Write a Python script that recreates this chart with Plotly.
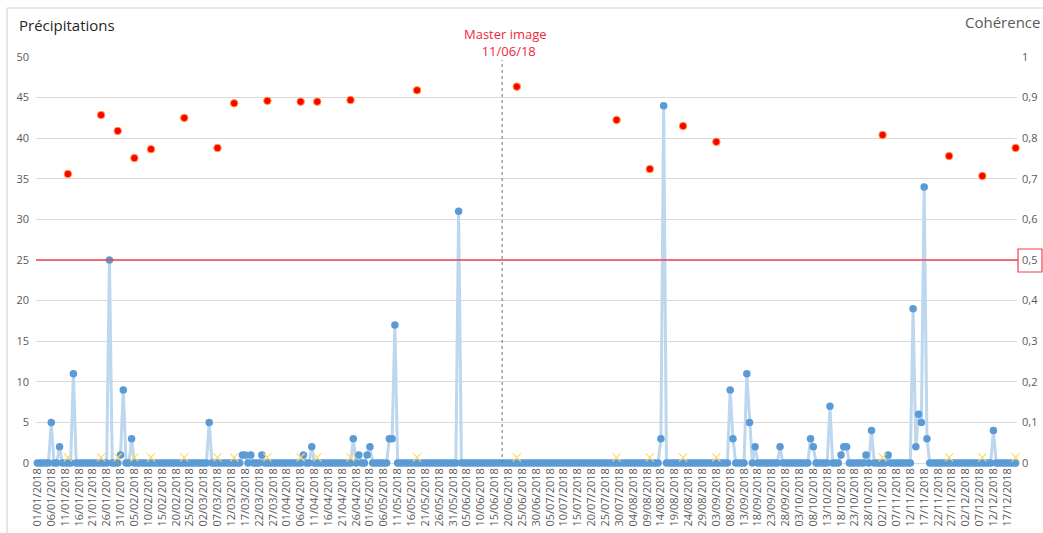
import pandas as pd
import plotly.graph_objects as go

# Daily rainfall (mm): days with rain; every other day of the series is 0
rain_dates = [
    "2018-01-06", "2018-01-09", "2018-01-14", "2018-01-27", "2018-01-31",
    "2018-02-01", "2018-02-04", "2018-03-04", "2018-03-16", "2018-03-17",
    "2018-03-19", "2018-03-23", "2018-04-07", "2018-04-10", "2018-04-25",
    "2018-04-27", "2018-04-30", "2018-05-01", "2018-05-08", "2018-05-09",
    "2018-05-10", "2018-06-02", "2018-08-14", "2018-08-15", "2018-09-08",
    "2018-09-09", "2018-09-14", "2018-09-15", "2018-09-17", "2018-09-26",
    "2018-10-07", "2018-10-08", "2018-10-14", "2018-10-18", "2018-10-19",
    "2018-10-20", "2018-10-27", "2018-10-29", "2018-11-04", "2018-11-13",
    "2018-11-14", "2018-11-15", "2018-11-16", "2018-11-17", "2018-11-18",
    "2018-12-12",
]
rain_mm = [
    5, 2, 11, 25, 1,
    9, 3, 5, 1, 1,
    1, 1, 1, 2, 3,
    1, 1, 2, 3, 3,
    17, 31, 3, 44, 9,
    3, 11, 5, 2, 2,
    3, 2, 7, 1, 2,
    2, 1, 4, 1, 19,
    2, 6, 5, 34, 3,
    4,
]
series_start = "2018-01-01"
series_end = "2018-12-20"

# Interferometric coherence per acquisition date
acq_dates = [
    "2018-01-12", "2018-01-24", "2018-01-30", "2018-02-05", "2018-02-11",
    "2018-02-23", "2018-03-07", "2018-03-13", "2018-03-25", "2018-04-06",
    "2018-04-12", "2018-04-24", "2018-05-18", "2018-06-23", "2018-07-29",
    "2018-08-10", "2018-08-22", "2018-09-03", "2018-11-02", "2018-11-26",
    "2018-12-08", "2018-12-20",
]
coherence = [
    0.712, 0.857, 0.818, 0.751, 0.773,
    0.850, 0.776, 0.886, 0.892, 0.890,
    0.890, 0.894, 0.918, 0.927, 0.845,
    0.724, 0.830, 0.791, 0.808, 0.756,
    0.707, 0.776,
]
# acquisition markers drawn just above the rainfall baseline
acq_marker_mm = [0.7] * len(acq_dates)

coherence_threshold = 0.5
master_line_date = "2018-06-17 17:00"
master_label = "Master image<br>  11/06/18"

# x tick labels: every 5 days
tick_dates = pd.date_range("2018-01-01", "2018-12-17", freq="5D")
tick_text = [d.strftime("%d/%m/%Y") for d in tick_dates]

days = pd.date_range(series_start, series_end, freq="D")
rain = pd.Series(rain_mm, index=pd.to_datetime(rain_dates)).reindex(days, fill_value=0)

W, H = 1043, 533
ML, MR, MT, MB = 36, 26, 57, 70
PW, PH = W - ML - MR, H - MT - MB


def px_x(x):
    return (x - ML) / PW


def px_y(y):
    return (H - MB - y) / PH


grey = "#595959"
font_family = "Open Sans, Noto Sans, sans-serif"

fig = go.Figure()

fig.add_trace(go.Scatter(
    x=days, y=rain.values, mode="lines+markers", cliponaxis=False,
    line=dict(color="#BDD7EE", width=3),
    marker=dict(color="#5B9BD5", size=7.5),
    hoverinfo="x+y", showlegend=False,
))

fig.add_trace(go.Scatter(
    x=pd.to_datetime(acq_dates), y=acq_marker_mm, mode="markers", cliponaxis=False,
    marker=dict(symbol="x-thin", size=8, line=dict(color="#FFD966", width=1.2)),
    showlegend=False,
))

fig.add_trace(go.Scatter(
    x=pd.to_datetime(acq_dates), y=coherence, mode="markers", yaxis="y2",
    cliponaxis=False,
    marker=dict(color="#FF0000", size=7.5, line=dict(color="#FFA040", width=1)),
    showlegend=False,
))

shapes = [
    # chart frame
    dict(type="rect", xref="paper", yref="paper",
         x0=px_x(7), x1=px_x(1060), y0=px_y(545), y1=px_y(8),
         line=dict(color="#D0D0D0", width=1), fillcolor="rgba(0,0,0,0)", layer="below"),
    # coherence threshold
    dict(type="line", xref="paper", yref="y2", x0=0, x1=px_x(1018),
         y0=coherence_threshold, y1=coherence_threshold,
         line=dict(color="#F0404E", width=1.5)),
    # box around the threshold tick label
    dict(type="rect", xref="paper", yref="paper",
         x0=px_x(1018), x1=px_x(1042), y0=px_y(272), y1=px_y(249),
         line=dict(color="#F0404E", width=1.2), fillcolor="rgba(0,0,0,0)"),
    # master image date
    dict(type="line", xref="x", yref="paper", x0=master_line_date, x1=master_line_date,
         y0=0, y1=px_y(60), line=dict(color="#707070", width=1, dash="dot")),
]

annotations = [
    dict(text="Précipitations", xref="paper", yref="paper", x=px_x(17), y=px_y(25),
         xanchor="left", yanchor="middle", showarrow=False,
         font=dict(family=font_family, size=15, color="#262626")),
    dict(text="Cohérence", xref="paper", yref="paper", x=px_x(1042), y=px_y(22),
         xanchor="right", yanchor="middle", showarrow=False,
         font=dict(family=font_family, size=15, color=grey)),
    dict(text=master_label, xref="paper", yref="paper", x=px_x(505), y=px_y(43),
         xanchor="center", yanchor="middle", showarrow=False, align="center",
         font=dict(family=font_family, size=13, color="#F0283C")),
]

fig.update_layout(
    width=W, height=H,
    margin=dict(l=ML, r=MR, t=MT, b=MB, autoexpand=False),
    paper_bgcolor="white", plot_bgcolor="white",
    separators=", ",
    font=dict(family=font_family, size=11, color=grey),
    showlegend=False,
    shapes=shapes, annotations=annotations,
    xaxis=dict(
        type="date", range=["2017-12-31 12:00", "2018-12-20 12:00"],
        tickmode="array", tickvals=tick_dates, ticktext=tick_text,
        tickangle=-90, tickfont=dict(size=11, color=grey),
        showgrid=False, zeroline=False, showline=False, ticks="", automargin=False,
        ticklabelstandoff=2,
    ),
    yaxis=dict(
        range=[0, 50], dtick=5, tick0=0,
        showgrid=True, gridcolor="#D9D9D9", gridwidth=1,
        zeroline=True, zerolinecolor="#D9D9D9", zerolinewidth=1,
        showline=False, ticks="", tickfont=dict(size=11, color=grey),
        automargin=False, ticklabelstandoff=6,
    ),
    yaxis2=dict(
        range=[0, 1], dtick=0.1, tick0=0, overlaying="y", side="right",
        showgrid=False, zeroline=False, showline=False, ticks="",
        tickfont=dict(size=11, color=grey), automargin=False,
        ticklabelstandoff=4,
    ),
)

fig.write_html("out.html")
